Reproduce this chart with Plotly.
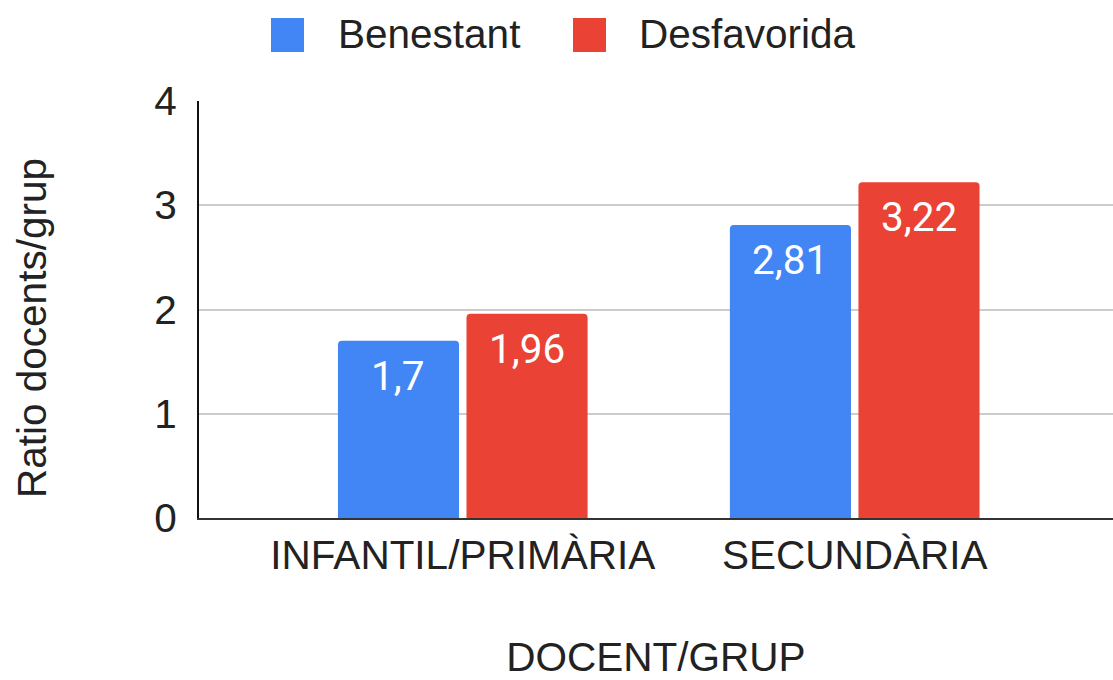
import plotly.graph_objects as go

# ---------------- data ----------------
categories = ["INFANTIL/PRIMÀRIA", "SECUNDÀRIA"]
series_names = ["Benestant", "Desfavorida"]
benestant = [1.7, 2.81]
desfavorida = [1.96, 3.22]
y_ticks = [0, 1, 2, 3, 4]
x_title = "DOCENT/GRUP"
y_title = "Ratio docents/grup"

colors = ["#4285F4", "#EA4335"]
TXT = "#222222"
FONT = "Liberation Sans, Arial, sans-serif"
FS = 40.5

# ---------------- geometry ----------------
W, H = 1113, 680
L, R, T, B = 199, 0, 101, 162
PW = W - L - R
PH = H - T - B
X_RANGE = [-0.673, 1.659]
BARGAP = 0.344


def px2x(px):
    return (px - L) / PW


def px2y(py):
    return (H - B - py) / PH


fig = go.Figure()

for name, vals, col in zip(series_names, [benestant, desfavorida], colors):
    fig.add_trace(go.Bar(
        x=categories,
        y=vals,
        name=name,
        marker=dict(color=col, cornerradius=4, line=dict(width=0)),
        hoverinfo="skip",
        showlegend=False,
    ))

# value labels inside the top of each bar
cat_px = PW / (X_RANGE[1] - X_RANGE[0])
half_slot = cat_px * (1 - BARGAP) / 4
for vals, side in zip([benestant, desfavorida], [-1, 1]):
    for c, v in zip(categories, vals):
        fig.add_annotation(
            x=c, y=v, xref="x", yref="y",
            text=str(v).replace(".", ","),
            xshift=side * half_slot, yshift=-9,
            xanchor="center", yanchor="top", showarrow=False,
            font=dict(family="Roboto", size=FS, color="white"),
        )

# legend drawn by hand (big square swatches like the original)
legend_items = [(271, 336), (573, 637)]
for (sq_x, txt_x), name, col in zip(legend_items, series_names, colors):
    fig.add_shape(
        type="rect", xref="paper", yref="paper",
        x0=px2x(sq_x), x1=px2x(sq_x + 33),
        y0=px2y(52), y1=px2y(18),
        fillcolor=col, line=dict(width=0), layer="above",
    )
    fig.add_annotation(
        text=name, xref="paper", yref="paper",
        x=px2x(txt_x), y=px2y(34),
        xanchor="left", yanchor="middle", showarrow=False,
        font=dict(family=FONT, size=FS, color=TXT),
    )

# y axis title
fig.add_annotation(
    text=y_title, xref="paper", yref="paper",
    x=px2x(32), y=px2y(328), textangle=-90,
    xanchor="center", yanchor="middle", showarrow=False,
    font=dict(family=FONT, size=FS, color=TXT),
)

fig.update_layout(
    width=W,
    height=H,
    margin=dict(l=L, r=R, t=T, b=B, autoexpand=False),
    paper_bgcolor="white",
    plot_bgcolor="white",
    barmode="group",
    bargap=BARGAP,
    bargroupgap=0.058,
    showlegend=False,
    font=dict(family=FONT, size=FS, color=TXT),
)

fig.update_xaxes(
    type="category",
    range=X_RANGE,
    showline=True,
    linecolor="#333333",
    linewidth=2,
    ticks="",
    ticklabelstandoff=0,
    tickfont=dict(family=FONT, size=FS, color=TXT),
    showgrid=False,
    title=dict(text=x_title, standoff=72, font=dict(family=FONT, size=FS, color=TXT)),
    automargin=False,
)

fig.update_yaxes(
    range=[0, 4],
    tickvals=y_ticks,
    showgrid=True,
    gridcolor="#cccccc",
    gridwidth=1.5,
    zeroline=False,
    showline=True,
    linecolor="#111111",
    linewidth=2,
    ticks="",
    ticklabelstandoff=12,
    tickfont=dict(family=FONT, size=FS, color=TXT),
    automargin=False,
)

fig.write_html(
    "out.html",
    config={"displayModeBar": False},
    post_script="document.body.style.margin='0';",
)
